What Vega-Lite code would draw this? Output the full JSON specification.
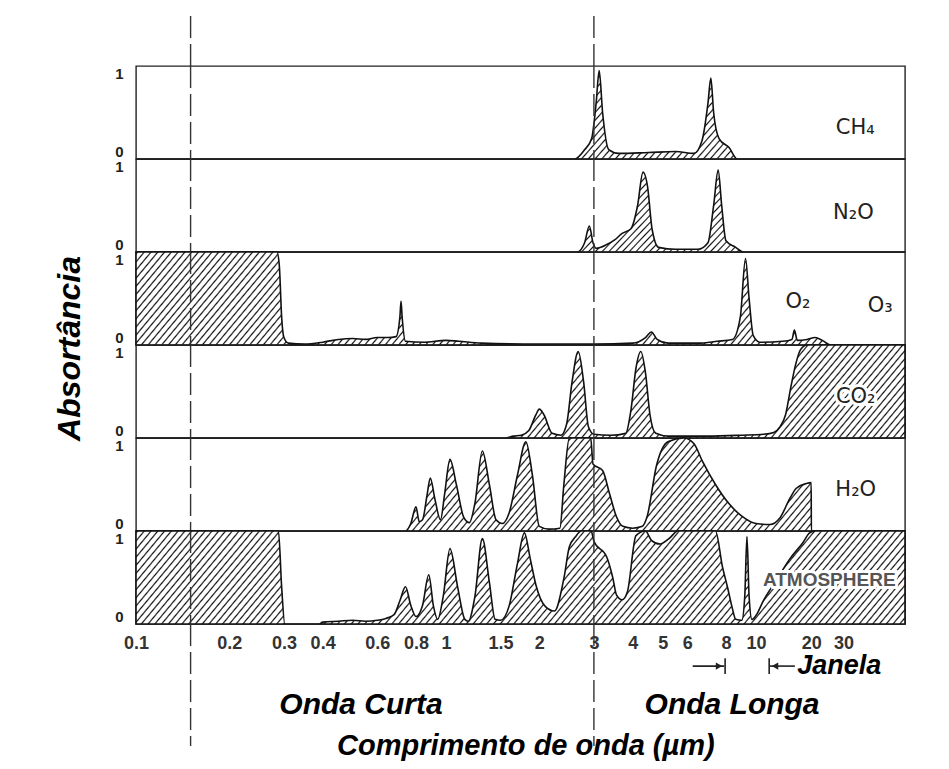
{
  "$schema": "https://vega.github.io/schema/vega-lite/v6.json",
  "padding": {"left": 52, "top": 15, "right": 0, "bottom": 0},
  "spacing": 0,
  "bounds": "flush",
  "resolve": {"scale": {"x": "independent", "y": "independent"}, "axis": {"x": "independent", "y": "independent"}},
  "datasets": {
    "limits": [{"wl": 0.15}, {"wl": 3}],
    "spectra": [
      {"gas": "CH4", "wl": 0.1, "a": 0}, {"gas": "CH4", "wl": 2.6, "a": 0}, {"gas": "CH4", "wl": 2.8, "a": 0.1}, {"gas": "CH4", "wl": 2.95, "a": 0.22}, {"gas": "CH4", "wl": 3.05, "a": 0.6}, {"gas": "CH4", "wl": 3.12, "a": 0.95}, {"gas": "CH4", "wl": 3.2, "a": 0.5}, {"gas": "CH4", "wl": 3.35, "a": 0.1}, {"gas": "CH4", "wl": 3.6, "a": 0.06}, {"gas": "CH4", "wl": 4.5, "a": 0.07}, {"gas": "CH4", "wl": 5.5, "a": 0.08}, {"gas": "CH4", "wl": 6.3, "a": 0.06}, {"gas": "CH4", "wl": 6.7, "a": 0.2}, {"gas": "CH4", "wl": 7.0, "a": 0.6}, {"gas": "CH4", "wl": 7.15, "a": 0.87}, {"gas": "CH4", "wl": 7.3, "a": 0.5}, {"gas": "CH4", "wl": 7.6, "a": 0.22}, {"gas": "CH4", "wl": 8.2, "a": 0.12}, {"gas": "CH4", "wl": 8.7, "a": 0}, {"gas": "CH4", "wl": 65, "a": 0},
      {"gas": "N2O", "wl": 0.1, "a": 0}, {"gas": "N2O", "wl": 2.65, "a": 0}, {"gas": "N2O", "wl": 2.8, "a": 0.1}, {"gas": "N2O", "wl": 2.9, "a": 0.28}, {"gas": "N2O", "wl": 2.98, "a": 0.1}, {"gas": "N2O", "wl": 3.05, "a": 0.04}, {"gas": "N2O", "wl": 3.3, "a": 0.08}, {"gas": "N2O", "wl": 3.5, "a": 0.13}, {"gas": "N2O", "wl": 3.7, "a": 0.2}, {"gas": "N2O", "wl": 3.95, "a": 0.25}, {"gas": "N2O", "wl": 4.15, "a": 0.5}, {"gas": "N2O", "wl": 4.32, "a": 0.86}, {"gas": "N2O", "wl": 4.47, "a": 0.7}, {"gas": "N2O", "wl": 4.62, "a": 0.25}, {"gas": "N2O", "wl": 4.85, "a": 0.05}, {"gas": "N2O", "wl": 5.5, "a": 0.03}, {"gas": "N2O", "wl": 6.5, "a": 0.03}, {"gas": "N2O", "wl": 7.0, "a": 0.1}, {"gas": "N2O", "wl": 7.3, "a": 0.5}, {"gas": "N2O", "wl": 7.55, "a": 0.88}, {"gas": "N2O", "wl": 7.75, "a": 0.5}, {"gas": "N2O", "wl": 8.0, "a": 0.12}, {"gas": "N2O", "wl": 8.6, "a": 0.05}, {"gas": "N2O", "wl": 9.1, "a": 0}, {"gas": "N2O", "wl": 65, "a": 0},
      {"gas": "O3", "wl": 0.1, "a": 1}, {"gas": "O3", "wl": 0.285, "a": 1}, {"gas": "O3", "wl": 0.29, "a": 0.85}, {"gas": "O3", "wl": 0.295, "a": 0.3}, {"gas": "O3", "wl": 0.3, "a": 0.08}, {"gas": "O3", "wl": 0.31, "a": 0.02}, {"gas": "O3", "wl": 0.35, "a": 0.01}, {"gas": "O3", "wl": 0.4, "a": 0.03}, {"gas": "O3", "wl": 0.45, "a": 0.06}, {"gas": "O3", "wl": 0.5, "a": 0.07}, {"gas": "O3", "wl": 0.55, "a": 0.06}, {"gas": "O3", "wl": 0.6, "a": 0.08}, {"gas": "O3", "wl": 0.65, "a": 0.08}, {"gas": "O3", "wl": 0.69, "a": 0.09}, {"gas": "O3", "wl": 0.71, "a": 0.3}, {"gas": "O3", "wl": 0.716, "a": 0.47}, {"gas": "O3", "wl": 0.722, "a": 0.3}, {"gas": "O3", "wl": 0.74, "a": 0.04}, {"gas": "O3", "wl": 0.85, "a": 0.03}, {"gas": "O3", "wl": 1.0, "a": 0.05}, {"gas": "O3", "wl": 1.1, "a": 0.04}, {"gas": "O3", "wl": 1.3, "a": 0.02}, {"gas": "O3", "wl": 2, "a": 0.01}, {"gas": "O3", "wl": 3, "a": 0.01}, {"gas": "O3", "wl": 4, "a": 0.02}, {"gas": "O3", "wl": 4.4, "a": 0.08}, {"gas": "O3", "wl": 4.6, "a": 0.14}, {"gas": "O3", "wl": 4.8, "a": 0.06}, {"gas": "O3", "wl": 5.2, "a": 0.02}, {"gas": "O3", "wl": 6.5, "a": 0.02}, {"gas": "O3", "wl": 7.5, "a": 0.04}, {"gas": "O3", "wl": 8.4, "a": 0.06}, {"gas": "O3", "wl": 8.9, "a": 0.3}, {"gas": "O3", "wl": 9.25, "a": 0.93}, {"gas": "O3", "wl": 9.5, "a": 0.5}, {"gas": "O3", "wl": 9.8, "a": 0.1}, {"gas": "O3", "wl": 10.5, "a": 0.03}, {"gas": "O3", "wl": 14, "a": 0.04}, {"gas": "O3", "wl": 15.7, "a": 0.06}, {"gas": "O3", "wl": 16.2, "a": 0.16}, {"gas": "O3", "wl": 16.8, "a": 0.05}, {"gas": "O3", "wl": 19, "a": 0.06}, {"gas": "O3", "wl": 21, "a": 0.08}, {"gas": "O3", "wl": 23, "a": 0.05}, {"gas": "O3", "wl": 25.5, "a": 0}, {"gas": "O3", "wl": 65, "a": 0},
      {"gas": "CO2", "wl": 0.1, "a": 0}, {"gas": "CO2", "wl": 1.55, "a": 0}, {"gas": "CO2", "wl": 1.65, "a": 0.02}, {"gas": "CO2", "wl": 1.75, "a": 0.03}, {"gas": "CO2", "wl": 1.85, "a": 0.08}, {"gas": "CO2", "wl": 1.95, "a": 0.25}, {"gas": "CO2", "wl": 2.0, "a": 0.31}, {"gas": "CO2", "wl": 2.07, "a": 0.25}, {"gas": "CO2", "wl": 2.2, "a": 0.05}, {"gas": "CO2", "wl": 2.35, "a": 0.03}, {"gas": "CO2", "wl": 2.45, "a": 0.15}, {"gas": "CO2", "wl": 2.55, "a": 0.6}, {"gas": "CO2", "wl": 2.67, "a": 0.93}, {"gas": "CO2", "wl": 2.78, "a": 0.6}, {"gas": "CO2", "wl": 2.88, "a": 0.12}, {"gas": "CO2", "wl": 3.0, "a": 0.04}, {"gas": "CO2", "wl": 3.4, "a": 0.03}, {"gas": "CO2", "wl": 3.8, "a": 0.05}, {"gas": "CO2", "wl": 3.95, "a": 0.3}, {"gas": "CO2", "wl": 4.1, "a": 0.75}, {"gas": "CO2", "wl": 4.25, "a": 0.93}, {"gas": "CO2", "wl": 4.4, "a": 0.7}, {"gas": "CO2", "wl": 4.55, "a": 0.25}, {"gas": "CO2", "wl": 4.75, "a": 0.05}, {"gas": "CO2", "wl": 5.2, "a": 0.02}, {"gas": "CO2", "wl": 7, "a": 0.02}, {"gas": "CO2", "wl": 9, "a": 0.03}, {"gas": "CO2", "wl": 11, "a": 0.04}, {"gas": "CO2", "wl": 12.5, "a": 0.06}, {"gas": "CO2", "wl": 13.5, "a": 0.12}, {"gas": "CO2", "wl": 14.5, "a": 0.25}, {"gas": "CO2", "wl": 15.5, "a": 0.55}, {"gas": "CO2", "wl": 16.5, "a": 0.8}, {"gas": "CO2", "wl": 17.5, "a": 0.95}, {"gas": "CO2", "wl": 19, "a": 1}, {"gas": "CO2", "wl": 65, "a": 1},
      {"gas": "H2O", "wl": 0.1, "a": 0}, {"gas": "H2O", "wl": 0.74, "a": 0}, {"gas": "H2O", "wl": 0.77, "a": 0.08}, {"gas": "H2O", "wl": 0.8, "a": 0.26}, {"gas": "H2O", "wl": 0.82, "a": 0.1}, {"gas": "H2O", "wl": 0.84, "a": 0.12}, {"gas": "H2O", "wl": 0.87, "a": 0.4}, {"gas": "H2O", "wl": 0.89, "a": 0.57}, {"gas": "H2O", "wl": 0.92, "a": 0.35}, {"gas": "H2O", "wl": 0.96, "a": 0.12}, {"gas": "H2O", "wl": 0.99, "a": 0.4}, {"gas": "H2O", "wl": 1.03, "a": 0.77}, {"gas": "H2O", "wl": 1.08, "a": 0.5}, {"gas": "H2O", "wl": 1.14, "a": 0.15}, {"gas": "H2O", "wl": 1.19, "a": 0.09}, {"gas": "H2O", "wl": 1.24, "a": 0.3}, {"gas": "H2O", "wl": 1.31, "a": 0.86}, {"gas": "H2O", "wl": 1.38, "a": 0.5}, {"gas": "H2O", "wl": 1.45, "a": 0.12}, {"gas": "H2O", "wl": 1.52, "a": 0.08}, {"gas": "H2O", "wl": 1.6, "a": 0.2}, {"gas": "H2O", "wl": 1.7, "a": 0.6}, {"gas": "H2O", "wl": 1.81, "a": 0.96}, {"gas": "H2O", "wl": 1.9, "a": 0.6}, {"gas": "H2O", "wl": 2.0, "a": 0.05}, {"gas": "H2O", "wl": 2.15, "a": 0.02}, {"gas": "H2O", "wl": 2.33, "a": 0.03}, {"gas": "H2O", "wl": 2.4, "a": 0.5}, {"gas": "H2O", "wl": 2.5, "a": 1.0}, {"gas": "H2O", "wl": 2.93, "a": 1.0}, {"gas": "H2O", "wl": 2.98, "a": 0.72}, {"gas": "H2O", "wl": 3.2, "a": 0.65}, {"gas": "H2O", "wl": 3.37, "a": 0.4}, {"gas": "H2O", "wl": 3.55, "a": 0.15}, {"gas": "H2O", "wl": 3.72, "a": 0.05}, {"gas": "H2O", "wl": 4.0, "a": 0.03}, {"gas": "H2O", "wl": 4.3, "a": 0.05}, {"gas": "H2O", "wl": 4.45, "a": 0.15}, {"gas": "H2O", "wl": 4.78, "a": 0.71}, {"gas": "H2O", "wl": 5.2, "a": 0.96}, {"gas": "H2O", "wl": 5.85, "a": 1.0}, {"gas": "H2O", "wl": 6.3, "a": 0.94}, {"gas": "H2O", "wl": 6.74, "a": 0.74}, {"gas": "H2O", "wl": 7.4, "a": 0.5}, {"gas": "H2O", "wl": 8.15, "a": 0.3}, {"gas": "H2O", "wl": 9.0, "a": 0.16}, {"gas": "H2O", "wl": 10, "a": 0.08}, {"gas": "H2O", "wl": 11.9, "a": 0.07}, {"gas": "H2O", "wl": 13.5, "a": 0.14}, {"gas": "H2O", "wl": 15.3, "a": 0.35}, {"gas": "H2O", "wl": 16.6, "a": 0.46}, {"gas": "H2O", "wl": 18.8, "a": 0.51}, {"gas": "H2O", "wl": 20, "a": 0.52}, {"gas": "H2O", "wl": 20.05, "a": 0}, {"gas": "H2O", "wl": 65, "a": 0},
      {"gas": "ATM", "wl": 0.1, "a": 1}, {"gas": "ATM", "wl": 0.288, "a": 1}, {"gas": "ATM", "wl": 0.295, "a": 0.4}, {"gas": "ATM", "wl": 0.302, "a": 0}, {"gas": "ATM", "wl": 0.39, "a": 0}, {"gas": "ATM", "wl": 0.4, "a": 0.02}, {"gas": "ATM", "wl": 0.45, "a": 0.03}, {"gas": "ATM", "wl": 0.5, "a": 0.04}, {"gas": "ATM", "wl": 0.55, "a": 0.03}, {"gas": "ATM", "wl": 0.6, "a": 0.04}, {"gas": "ATM", "wl": 0.64, "a": 0.06}, {"gas": "ATM", "wl": 0.68, "a": 0.1}, {"gas": "ATM", "wl": 0.71, "a": 0.25}, {"gas": "ATM", "wl": 0.74, "a": 0.4}, {"gas": "ATM", "wl": 0.77, "a": 0.2}, {"gas": "ATM", "wl": 0.8, "a": 0.08}, {"gas": "ATM", "wl": 0.84, "a": 0.2}, {"gas": "ATM", "wl": 0.88, "a": 0.53}, {"gas": "ATM", "wl": 0.91, "a": 0.2}, {"gas": "ATM", "wl": 0.94, "a": 0.05}, {"gas": "ATM", "wl": 0.98, "a": 0.3}, {"gas": "ATM", "wl": 1.03, "a": 0.81}, {"gas": "ATM", "wl": 1.09, "a": 0.4}, {"gas": "ATM", "wl": 1.15, "a": 0.05}, {"gas": "ATM", "wl": 1.18, "a": 0.03}, {"gas": "ATM", "wl": 1.24, "a": 0.3}, {"gas": "ATM", "wl": 1.31, "a": 0.92}, {"gas": "ATM", "wl": 1.38, "a": 0.45}, {"gas": "ATM", "wl": 1.44, "a": 0.05}, {"gas": "ATM", "wl": 1.5, "a": 0.04}, {"gas": "ATM", "wl": 1.6, "a": 0.2}, {"gas": "ATM", "wl": 1.7, "a": 0.65}, {"gas": "ATM", "wl": 1.79, "a": 0.98}, {"gas": "ATM", "wl": 1.87, "a": 0.7}, {"gas": "ATM", "wl": 1.95, "a": 0.42}, {"gas": "ATM", "wl": 2.09, "a": 0.19}, {"gas": "ATM", "wl": 2.24, "a": 0.14}, {"gas": "ATM", "wl": 2.4, "a": 0.49}, {"gas": "ATM", "wl": 2.5, "a": 0.83}, {"gas": "ATM", "wl": 2.62, "a": 0.94}, {"gas": "ATM", "wl": 2.73, "a": 1.0}, {"gas": "ATM", "wl": 2.94, "a": 1.0}, {"gas": "ATM", "wl": 3.0, "a": 0.89}, {"gas": "ATM", "wl": 3.3, "a": 0.72}, {"gas": "ATM", "wl": 3.45, "a": 0.5}, {"gas": "ATM", "wl": 3.55, "a": 0.31}, {"gas": "ATM", "wl": 3.7, "a": 0.26}, {"gas": "ATM", "wl": 3.85, "a": 0.35}, {"gas": "ATM", "wl": 4.1, "a": 0.95}, {"gas": "ATM", "wl": 4.4, "a": 1.0}, {"gas": "ATM", "wl": 4.6, "a": 0.9}, {"gas": "ATM", "wl": 4.9, "a": 0.86}, {"gas": "ATM", "wl": 5.25, "a": 0.92}, {"gas": "ATM", "wl": 5.6, "a": 1.0}, {"gas": "ATM", "wl": 7.4, "a": 1.0}, {"gas": "ATM", "wl": 7.8, "a": 0.61}, {"gas": "ATM", "wl": 8.1, "a": 0.39}, {"gas": "ATM", "wl": 8.4, "a": 0.16}, {"gas": "ATM", "wl": 8.6, "a": 0.05}, {"gas": "ATM", "wl": 9.0, "a": 0.04}, {"gas": "ATM", "wl": 9.2, "a": 0.3}, {"gas": "ATM", "wl": 9.35, "a": 0.94}, {"gas": "ATM", "wl": 9.5, "a": 0.3}, {"gas": "ATM", "wl": 9.7, "a": 0.05}, {"gas": "ATM", "wl": 10.2, "a": 0.12}, {"gas": "ATM", "wl": 10.9, "a": 0.24}, {"gas": "ATM", "wl": 12.9, "a": 0.47}, {"gas": "ATM", "wl": 15.3, "a": 0.7}, {"gas": "ATM", "wl": 18.1, "a": 0.88}, {"gas": "ATM", "wl": 19.6, "a": 0.98}, {"gas": "ATM", "wl": 21, "a": 1}, {"gas": "ATM", "wl": 65, "a": 1}
    ]
  },
  "vconcat": [
    {
      "width": 769, "height": 50, "view": {"stroke": null},
      "data": {"name": "limits"},
      "mark": {"type": "rule", "strokeDash": [22, 6], "stroke": "#333", "strokeWidth": 1.4},
      "encoding": {"x": {"field": "wl", "type": "quantitative", "scale": {"type": "log", "domain": [0.1, 10, 65], "range": [0, 620, 769], "nice": false}, "axis": null}}
    },
    {
      "width": 769, "height": 93,
      "layer": [
        {"data": {"name": "spectra"}, "transform": [{"filter": "datum.gas === 'CH4'"}], "mark": {"type": "area"},
         "encoding": {"x": {"field": "wl", "type": "quantitative", "scale": {"type": "log", "domain": [0.1, 10, 65], "range": [0, 620, 769], "nice": false}, "axis": null},
                      "y": {"field": "a", "type": "quantitative", "scale": {"domain": [0, 1], "nice": false}, "axis": {"values": [0, 1], "format": "~g", "title": null, "labelFlush": true, "ticks": false, "domain": false, "grid": false, "labelPadding": 13, "labelFontSize": 15, "labelFontWeight": "bold", "labelColor": "#222"}}}},
        {"data": {"name": "limits"}, "mark": {"type": "rule", "strokeDash": [22, 6], "stroke": "#333", "strokeWidth": 1.4}, "encoding": {"x": {"field": "wl", "type": "quantitative", "scale": {"type": "log", "domain": [0.1, 10, 65], "range": [0, 620, 769], "nice": false}, "axis": null}}},
        {"data": {"values": [{}]}, "mark": {"type": "text", "font": "DejaVu Sans", "fontSize": 21, "color": "#222"},
         "encoding": {"x": {"datum": 34.8, "type": "quantitative", "scale": {"type": "log", "domain": [0.1, 10, 65], "range": [0, 620, 769], "nice": false}, "axis": null}, "y": {"datum": 0.33, "type": "quantitative", "scale": {"domain": [0, 1], "nice": false}}, "text": {"value": "CH₄"}}}
      ]
    },
    {
      "width": 769, "height": 93,
      "layer": [
        {"data": {"name": "spectra"}, "transform": [{"filter": "datum.gas === 'N2O'"}], "mark": {"type": "area"},
         "encoding": {"x": {"field": "wl", "type": "quantitative", "scale": {"type": "log", "domain": [0.1, 10, 65], "range": [0, 620, 769], "nice": false}, "axis": null},
                      "y": {"field": "a", "type": "quantitative", "scale": {"domain": [0, 1], "nice": false}, "axis": {"values": [0, 1], "format": "~g", "title": null, "labelFlush": true, "ticks": false, "domain": false, "grid": false, "labelPadding": 13, "labelFontSize": 15, "labelFontWeight": "bold", "labelColor": "#222"}}}},
        {"data": {"name": "limits"}, "mark": {"type": "rule", "strokeDash": [22, 6], "stroke": "#333", "strokeWidth": 1.4}, "encoding": {"x": {"field": "wl", "type": "quantitative", "scale": {"type": "log", "domain": [0.1, 10, 65], "range": [0, 620, 769], "nice": false}, "axis": null}}},
        {"data": {"values": [{}]}, "mark": {"type": "text", "font": "DejaVu Sans", "fontSize": 21, "color": "#222"},
         "encoding": {"x": {"datum": 34, "type": "quantitative", "scale": {"type": "log", "domain": [0.1, 10, 65], "range": [0, 620, 769], "nice": false}, "axis": null}, "y": {"datum": 0.42, "type": "quantitative", "scale": {"domain": [0, 1], "nice": false}}, "text": {"value": "N₂O"}}}
      ]
    },
    {
      "width": 769, "height": 93,
      "layer": [
        {"data": {"name": "spectra"}, "transform": [{"filter": "datum.gas === 'O3'"}], "mark": {"type": "area"},
         "encoding": {"x": {"field": "wl", "type": "quantitative", "scale": {"type": "log", "domain": [0.1, 10, 65], "range": [0, 620, 769], "nice": false}, "axis": null},
                      "y": {"field": "a", "type": "quantitative", "scale": {"domain": [0, 1], "nice": false}, "axis": {"values": [0, 1], "format": "~g", "title": "Absortância", "titleFontSize": 32, "titleFontStyle": "italic", "titleFontWeight": "bold", "titleColor": "#000", "titlePadding": 28, "titleY": 96, "labelFlush": true, "ticks": false, "domain": false, "grid": false, "labelPadding": 13, "labelFontSize": 15, "labelFontWeight": "bold", "labelColor": "#222"}}}},
        {"data": {"name": "limits"}, "mark": {"type": "rule", "strokeDash": [22, 6], "stroke": "#333", "strokeWidth": 1.4}, "encoding": {"x": {"field": "wl", "type": "quantitative", "scale": {"type": "log", "domain": [0.1, 10, 65], "range": [0, 620, 769], "nice": false}, "axis": null}}},
        {"data": {"values": [{}]}, "mark": {"type": "text", "font": "DejaVu Sans", "fontSize": 21, "color": "#222"},
         "encoding": {"x": {"datum": 16.96, "type": "quantitative", "scale": {"type": "log", "domain": [0.1, 10, 65], "range": [0, 620, 769], "nice": false}, "axis": null}, "y": {"datum": 0.46, "type": "quantitative", "scale": {"domain": [0, 1], "nice": false}}, "text": {"value": "O₂"}}},
        {"data": {"values": [{}]}, "mark": {"type": "text", "font": "DejaVu Sans", "fontSize": 21, "color": "#222"},
         "encoding": {"x": {"datum": 47.6, "type": "quantitative", "scale": {"type": "log", "domain": [0.1, 10, 65], "range": [0, 620, 769], "nice": false}, "axis": null}, "y": {"datum": 0.42, "type": "quantitative", "scale": {"domain": [0, 1], "nice": false}}, "text": {"value": "O₃"}}}
      ]
    },
    {
      "width": 769, "height": 93,
      "layer": [
        {"data": {"name": "spectra"}, "transform": [{"filter": "datum.gas === 'CO2'"}], "mark": {"type": "area"},
         "encoding": {"x": {"field": "wl", "type": "quantitative", "scale": {"type": "log", "domain": [0.1, 10, 65], "range": [0, 620, 769], "nice": false}, "axis": null},
                      "y": {"field": "a", "type": "quantitative", "scale": {"domain": [0, 1], "nice": false}, "axis": {"values": [0, 1], "format": "~g", "title": null, "labelFlush": true, "ticks": false, "domain": false, "grid": false, "labelPadding": 13, "labelFontSize": 15, "labelFontWeight": "bold", "labelColor": "#222"}}}},
        {"data": {"name": "limits"}, "mark": {"type": "rule", "strokeDash": [22, 6], "stroke": "#333", "strokeWidth": 1.4}, "encoding": {"x": {"field": "wl", "type": "quantitative", "scale": {"type": "log", "domain": [0.1, 10, 65], "range": [0, 620, 769], "nice": false}, "axis": null}}},
        {"data": {"values": [{}]}, "mark": {"type": "text", "font": "DejaVu Sans", "fontSize": 21, "color": "#fff", "stroke": "#fff", "strokeWidth": 6},
         "encoding": {"x": {"datum": 35, "type": "quantitative", "scale": {"type": "log", "domain": [0.1, 10, 65], "range": [0, 620, 769], "nice": false}, "axis": null}, "y": {"datum": 0.44, "type": "quantitative", "scale": {"domain": [0, 1], "nice": false}}, "text": {"value": "CO₂"}}},
        {"data": {"values": [{}]}, "mark": {"type": "text", "font": "DejaVu Sans", "fontSize": 21, "color": "#222"},
         "encoding": {"x": {"datum": 35, "type": "quantitative", "scale": {"type": "log", "domain": [0.1, 10, 65], "range": [0, 620, 769], "nice": false}, "axis": null}, "y": {"datum": 0.44, "type": "quantitative", "scale": {"domain": [0, 1], "nice": false}}, "text": {"value": "CO₂"}}}
      ]
    },
    {
      "width": 769, "height": 93,
      "layer": [
        {"data": {"name": "spectra"}, "transform": [{"filter": "datum.gas === 'H2O'"}], "mark": {"type": "area"},
         "encoding": {"x": {"field": "wl", "type": "quantitative", "scale": {"type": "log", "domain": [0.1, 10, 65], "range": [0, 620, 769], "nice": false}, "axis": null},
                      "y": {"field": "a", "type": "quantitative", "scale": {"domain": [0, 1], "nice": false}, "axis": {"values": [0, 1], "format": "~g", "title": null, "labelFlush": true, "ticks": false, "domain": false, "grid": false, "labelPadding": 13, "labelFontSize": 15, "labelFontWeight": "bold", "labelColor": "#222"}}}},
        {"data": {"name": "limits"}, "mark": {"type": "rule", "strokeDash": [22, 6], "stroke": "#333", "strokeWidth": 1.4}, "encoding": {"x": {"field": "wl", "type": "quantitative", "scale": {"type": "log", "domain": [0.1, 10, 65], "range": [0, 620, 769], "nice": false}, "axis": null}}},
        {"data": {"values": [{}]}, "mark": {"type": "text", "font": "DejaVu Sans", "fontSize": 21, "color": "#222"},
         "encoding": {"x": {"datum": 35, "type": "quantitative", "scale": {"type": "log", "domain": [0.1, 10, 65], "range": [0, 620, 769], "nice": false}, "axis": null}, "y": {"datum": 0.44, "type": "quantitative", "scale": {"domain": [0, 1], "nice": false}}, "text": {"value": "H₂O"}}}
      ]
    },
    {
      "width": 769, "height": 93,
      "layer": [
        {"data": {"name": "spectra"}, "transform": [{"filter": "datum.gas === 'ATM'"}], "mark": {"type": "area"},
         "encoding": {"x": {"field": "wl", "type": "quantitative", "scale": {"type": "log", "domain": [0.1, 10, 65], "range": [0, 620, 769], "nice": false}, "axis": null},
                      "y": {"field": "a", "type": "quantitative", "scale": {"domain": [0, 1], "nice": false}, "axis": {"values": [0, 1], "format": "~g", "title": null, "labelFlush": true, "ticks": false, "domain": false, "grid": false, "labelPadding": 13, "labelFontSize": 15, "labelFontWeight": "bold", "labelColor": "#222"}}}},
        {"data": {"name": "limits"}, "mark": {"type": "rule", "strokeDash": [22, 6], "stroke": "#333", "strokeWidth": 1.4}, "encoding": {"x": {"field": "wl", "type": "quantitative", "scale": {"type": "log", "domain": [0.1, 10, 65], "range": [0, 620, 769], "nice": false}, "axis": null}}},
        {"data": {"values": [{}]}, "mark": {"type": "text", "fontSize": 19, "fontWeight": "bold", "color": "#fff", "stroke": "#fff", "strokeWidth": 6},
         "encoding": {"x": {"datum": 25.1, "type": "quantitative", "scale": {"type": "log", "domain": [0.1, 10, 65], "range": [0, 620, 769], "nice": false}, "axis": null}, "y": {"datum": 0.47, "type": "quantitative", "scale": {"domain": [0, 1], "nice": false}}, "text": {"value": "ATMOSPHERE"}}},
        {"data": {"values": [{}]}, "mark": {"type": "text", "fontSize": 19, "fontWeight": "bold", "color": "#555"},
         "encoding": {"x": {"datum": 25.1, "type": "quantitative", "scale": {"type": "log", "domain": [0.1, 10, 65], "range": [0, 620, 769], "nice": false}, "axis": null}, "y": {"datum": 0.47, "type": "quantitative", "scale": {"domain": [0, 1], "nice": false}}, "text": {"value": "ATMOSPHERE"}}}
      ]
    },
    {
      "width": 769, "height": 122, "view": {"stroke": null},
      "layer": [
        {"data": {"name": "limits"}, "mark": {"type": "rule", "strokeDash": [22, 6], "stroke": "#333", "strokeWidth": 1.4},
         "encoding": {"x": {"field": "wl", "type": "quantitative", "scale": {"type": "log", "domain": [0.1, 10, 65], "range": [0, 620, 769], "nice": false},
                            "axis": {"orient": "top", "values": [0.1, 0.2, 0.3, 0.4, 0.6, 0.8, 1, 1.5, 2, 3, 4, 5, 6, 8, 10, 20, 30], "format": "~g", "labelBaseline": "top", "labelPadding": -10, "labelFontSize": 18, "labelFontWeight": "bold", "labelColor": "#333", "ticks": false, "domain": false, "grid": false, "title": null, "labelFlush": false, "labelOverlap": false, "labelBound": false}}}},
        {"data": {"values": [{}]}, "mark": {"type": "text", "fontSize": 30, "fontWeight": "bold", "fontStyle": "italic", "color": "#000"},
         "encoding": {"x": {"datum": 0.532, "type": "quantitative", "scale": {"type": "log", "domain": [0.1, 10, 65], "range": [0, 620, 769], "nice": false}}, "y": {"datum": 0.34, "type": "quantitative", "scale": {"domain": [0, 1], "nice": false}, "axis": null}, "text": {"value": "Onda Curta"}}},
        {"data": {"values": [{}]}, "mark": {"type": "text", "fontSize": 30, "fontWeight": "bold", "fontStyle": "italic", "color": "#000"},
         "encoding": {"x": {"datum": 8.37, "type": "quantitative", "scale": {"type": "log", "domain": [0.1, 10, 65], "range": [0, 620, 769], "nice": false}}, "y": {"datum": 0.34, "type": "quantitative", "scale": {"domain": [0, 1], "nice": false}, "axis": null}, "text": {"value": "Onda Longa"}}},
        {"data": {"values": [{}]}, "mark": {"type": "text", "fontSize": 29, "fontWeight": "bold", "fontStyle": "italic", "color": "#000"},
         "encoding": {"x": {"datum": 1.81, "type": "quantitative", "scale": {"type": "log", "domain": [0.1, 10, 65], "range": [0, 620, 769], "nice": false}}, "y": {"datum": 0, "type": "quantitative", "scale": {"domain": [0, 1], "nice": false}, "axis": null}, "text": {"value": "Comprimento de onda (µm)"}}},
        {"data": {"values": [{}]}, "mark": {"type": "rule", "stroke": "#222", "strokeWidth": 1.6},
         "encoding": {"x": {"datum": 6.25, "type": "quantitative", "scale": {"type": "log", "domain": [0.1, 10, 65], "range": [0, 620, 769], "nice": false}}, "x2": {"datum": 7.9}, "y": {"datum": 0.655, "type": "quantitative", "scale": {"domain": [0, 1], "nice": false}, "axis": null}}},
        {"data": {"values": [{}]}, "mark": {"type": "rule", "stroke": "#222", "strokeWidth": 1.6},
         "encoding": {"x": {"datum": 7.95, "type": "quantitative", "scale": {"type": "log", "domain": [0.1, 10, 65], "range": [0, 620, 769], "nice": false}}, "y": {"datum": 0.59, "type": "quantitative", "scale": {"domain": [0, 1], "nice": false}, "axis": null}, "y2": {"datum": 0.72}}},
        {"data": {"values": [{}]}, "mark": {"type": "point", "shape": "triangle-right", "filled": true, "size": 55, "color": "#222", "opacity": 1},
         "encoding": {"x": {"datum": 7.6, "type": "quantitative", "scale": {"type": "log", "domain": [0.1, 10, 65], "range": [0, 620, 769], "nice": false}}, "y": {"datum": 0.655, "type": "quantitative", "scale": {"domain": [0, 1], "nice": false}, "axis": null}}},
        {"data": {"values": [{}]}, "mark": {"type": "rule", "stroke": "#222", "strokeWidth": 1.6},
         "encoding": {"x": {"datum": 11.8, "type": "quantitative", "scale": {"type": "log", "domain": [0.1, 10, 65], "range": [0, 620, 769], "nice": false}}, "y": {"datum": 0.59, "type": "quantitative", "scale": {"domain": [0, 1], "nice": false}, "axis": null}, "y2": {"datum": 0.72}}},
        {"data": {"values": [{}]}, "mark": {"type": "rule", "stroke": "#222", "strokeWidth": 1.6},
         "encoding": {"x": {"datum": 11.9, "type": "quantitative", "scale": {"type": "log", "domain": [0.1, 10, 65], "range": [0, 620, 769], "nice": false}}, "x2": {"datum": 16.3}, "y": {"datum": 0.655, "type": "quantitative", "scale": {"domain": [0, 1], "nice": false}, "axis": null}}},
        {"data": {"values": [{}]}, "mark": {"type": "point", "shape": "triangle-left", "filled": true, "size": 55, "color": "#222", "opacity": 1},
         "encoding": {"x": {"datum": 12.7, "type": "quantitative", "scale": {"type": "log", "domain": [0.1, 10, 65], "range": [0, 620, 769], "nice": false}}, "y": {"datum": 0.655, "type": "quantitative", "scale": {"domain": [0, 1], "nice": false}, "axis": null}}},
        {"data": {"values": [{}]}, "mark": {"type": "text", "fontSize": 27, "fontWeight": "bold", "fontStyle": "italic", "align": "left", "color": "#000"},
         "encoding": {"x": {"datum": 16.8, "type": "quantitative", "scale": {"type": "log", "domain": [0.1, 10, 65], "range": [0, 620, 769], "nice": false}}, "y": {"datum": 0.655, "type": "quantitative", "scale": {"domain": [0, 1], "nice": false}, "axis": null}, "text": {"value": "Janela"}}}
      ]
    }
  ],
  "config": {
    "font": "Liberation Sans",
    "view": {"stroke": "#222", "strokeWidth": 1.4},
    "text": {"font": "Liberation Sans", "baseline": "middle"},
    "area": {
      "interpolate": "monotone",
      "stroke": "#111",
      "strokeWidth": 1.6,
      "fill": {
        "gradient": "linear", "x1": 0, "y1": 0, "x2": 1.0897, "y2": 0.1098,
        "stops": [
          {"offset":0,"color":"#fff"},{"offset":0.0018,"color":"#111"},{"offset":0.0036,"color":"#fff"},
          {"offset":0.008,"color":"#fff"},{"offset":0.0098,"color":"#111"},{"offset":0.0116,"color":"#fff"},
          {"offset":0.016,"color":"#fff"},{"offset":0.0178,"color":"#111"},{"offset":0.0196,"color":"#fff"},
          {"offset":0.024,"color":"#fff"},{"offset":0.0258,"color":"#111"},{"offset":0.0276,"color":"#fff"},
          {"offset":0.032,"color":"#fff"},{"offset":0.0338,"color":"#111"},{"offset":0.0356,"color":"#fff"},
          {"offset":0.04,"color":"#fff"},{"offset":0.0418,"color":"#111"},{"offset":0.0436,"color":"#fff"},
          {"offset":0.048,"color":"#fff"},{"offset":0.0498,"color":"#111"},{"offset":0.0516,"color":"#fff"},
          {"offset":0.056,"color":"#fff"},{"offset":0.0578,"color":"#111"},{"offset":0.0596,"color":"#fff"},
          {"offset":0.064,"color":"#fff"},{"offset":0.0658,"color":"#111"},{"offset":0.0676,"color":"#fff"},
          {"offset":0.072,"color":"#fff"},{"offset":0.0738,"color":"#111"},{"offset":0.0756,"color":"#fff"},
          {"offset":0.08,"color":"#fff"},{"offset":0.0818,"color":"#111"},{"offset":0.0836,"color":"#fff"},
          {"offset":0.088,"color":"#fff"},{"offset":0.0898,"color":"#111"},{"offset":0.0916,"color":"#fff"},
          {"offset":0.096,"color":"#fff"},{"offset":0.0978,"color":"#111"},{"offset":0.0996,"color":"#fff"},
          {"offset":0.104,"color":"#fff"},{"offset":0.1058,"color":"#111"},{"offset":0.1076,"color":"#fff"},
          {"offset":0.112,"color":"#fff"},{"offset":0.1138,"color":"#111"},{"offset":0.1156,"color":"#fff"},
          {"offset":0.12,"color":"#fff"},{"offset":0.1218,"color":"#111"},{"offset":0.1236,"color":"#fff"},
          {"offset":0.128,"color":"#fff"},{"offset":0.1298,"color":"#111"},{"offset":0.1316,"color":"#fff"},
          {"offset":0.136,"color":"#fff"},{"offset":0.1378,"color":"#111"},{"offset":0.1396,"color":"#fff"},
          {"offset":0.144,"color":"#fff"},{"offset":0.1458,"color":"#111"},{"offset":0.1476,"color":"#fff"},
          {"offset":0.152,"color":"#fff"},{"offset":0.1538,"color":"#111"},{"offset":0.1556,"color":"#fff"},
          {"offset":0.16,"color":"#fff"},{"offset":0.1618,"color":"#111"},{"offset":0.1636,"color":"#fff"},
          {"offset":0.168,"color":"#fff"},{"offset":0.1698,"color":"#111"},{"offset":0.1716,"color":"#fff"},
          {"offset":0.176,"color":"#fff"},{"offset":0.1778,"color":"#111"},{"offset":0.1796,"color":"#fff"},
          {"offset":0.184,"color":"#fff"},{"offset":0.1858,"color":"#111"},{"offset":0.1876,"color":"#fff"},
          {"offset":0.192,"color":"#fff"},{"offset":0.1938,"color":"#111"},{"offset":0.1956,"color":"#fff"},
          {"offset":0.2,"color":"#fff"},{"offset":0.2018,"color":"#111"},{"offset":0.2036,"color":"#fff"},
          {"offset":0.208,"color":"#fff"},{"offset":0.2098,"color":"#111"},{"offset":0.2116,"color":"#fff"},
          {"offset":0.216,"color":"#fff"},{"offset":0.2178,"color":"#111"},{"offset":0.2196,"color":"#fff"},
          {"offset":0.224,"color":"#fff"},{"offset":0.2258,"color":"#111"},{"offset":0.2276,"color":"#fff"},
          {"offset":0.232,"color":"#fff"},{"offset":0.2338,"color":"#111"},{"offset":0.2356,"color":"#fff"},
          {"offset":0.24,"color":"#fff"},{"offset":0.2418,"color":"#111"},{"offset":0.2436,"color":"#fff"},
          {"offset":0.248,"color":"#fff"},{"offset":0.2498,"color":"#111"},{"offset":0.2516,"color":"#fff"},
          {"offset":0.256,"color":"#fff"},{"offset":0.2578,"color":"#111"},{"offset":0.2596,"color":"#fff"},
          {"offset":0.264,"color":"#fff"},{"offset":0.2658,"color":"#111"},{"offset":0.2676,"color":"#fff"},
          {"offset":0.272,"color":"#fff"},{"offset":0.2738,"color":"#111"},{"offset":0.2756,"color":"#fff"},
          {"offset":0.28,"color":"#fff"},{"offset":0.2818,"color":"#111"},{"offset":0.2836,"color":"#fff"},
          {"offset":0.288,"color":"#fff"},{"offset":0.2898,"color":"#111"},{"offset":0.2916,"color":"#fff"},
          {"offset":0.296,"color":"#fff"},{"offset":0.2978,"color":"#111"},{"offset":0.2996,"color":"#fff"},
          {"offset":0.304,"color":"#fff"},{"offset":0.3058,"color":"#111"},{"offset":0.3076,"color":"#fff"},
          {"offset":0.312,"color":"#fff"},{"offset":0.3138,"color":"#111"},{"offset":0.3156,"color":"#fff"},
          {"offset":0.32,"color":"#fff"},{"offset":0.3218,"color":"#111"},{"offset":0.3236,"color":"#fff"},
          {"offset":0.328,"color":"#fff"},{"offset":0.3298,"color":"#111"},{"offset":0.3316,"color":"#fff"},
          {"offset":0.336,"color":"#fff"},{"offset":0.3378,"color":"#111"},{"offset":0.3396,"color":"#fff"},
          {"offset":0.344,"color":"#fff"},{"offset":0.3458,"color":"#111"},{"offset":0.3476,"color":"#fff"},
          {"offset":0.352,"color":"#fff"},{"offset":0.3538,"color":"#111"},{"offset":0.3556,"color":"#fff"},
          {"offset":0.36,"color":"#fff"},{"offset":0.3618,"color":"#111"},{"offset":0.3636,"color":"#fff"},
          {"offset":0.368,"color":"#fff"},{"offset":0.3698,"color":"#111"},{"offset":0.3716,"color":"#fff"},
          {"offset":0.376,"color":"#fff"},{"offset":0.3778,"color":"#111"},{"offset":0.3796,"color":"#fff"},
          {"offset":0.384,"color":"#fff"},{"offset":0.3858,"color":"#111"},{"offset":0.3876,"color":"#fff"},
          {"offset":0.392,"color":"#fff"},{"offset":0.3938,"color":"#111"},{"offset":0.3956,"color":"#fff"},
          {"offset":0.4,"color":"#fff"},{"offset":0.4018,"color":"#111"},{"offset":0.4036,"color":"#fff"},
          {"offset":0.408,"color":"#fff"},{"offset":0.4098,"color":"#111"},{"offset":0.4116,"color":"#fff"},
          {"offset":0.416,"color":"#fff"},{"offset":0.4178,"color":"#111"},{"offset":0.4196,"color":"#fff"},
          {"offset":0.424,"color":"#fff"},{"offset":0.4258,"color":"#111"},{"offset":0.4276,"color":"#fff"},
          {"offset":0.432,"color":"#fff"},{"offset":0.4338,"color":"#111"},{"offset":0.4356,"color":"#fff"},
          {"offset":0.44,"color":"#fff"},{"offset":0.4418,"color":"#111"},{"offset":0.4436,"color":"#fff"},
          {"offset":0.448,"color":"#fff"},{"offset":0.4498,"color":"#111"},{"offset":0.4516,"color":"#fff"},
          {"offset":0.456,"color":"#fff"},{"offset":0.4578,"color":"#111"},{"offset":0.4596,"color":"#fff"},
          {"offset":0.464,"color":"#fff"},{"offset":0.4658,"color":"#111"},{"offset":0.4676,"color":"#fff"},
          {"offset":0.472,"color":"#fff"},{"offset":0.4738,"color":"#111"},{"offset":0.4756,"color":"#fff"},
          {"offset":0.48,"color":"#fff"},{"offset":0.4818,"color":"#111"},{"offset":0.4836,"color":"#fff"},
          {"offset":0.488,"color":"#fff"},{"offset":0.4898,"color":"#111"},{"offset":0.4916,"color":"#fff"},
          {"offset":0.496,"color":"#fff"},{"offset":0.4978,"color":"#111"},{"offset":0.4996,"color":"#fff"},
          {"offset":0.504,"color":"#fff"},{"offset":0.5058,"color":"#111"},{"offset":0.5076,"color":"#fff"},
          {"offset":0.512,"color":"#fff"},{"offset":0.5138,"color":"#111"},{"offset":0.5156,"color":"#fff"},
          {"offset":0.52,"color":"#fff"},{"offset":0.5218,"color":"#111"},{"offset":0.5236,"color":"#fff"},
          {"offset":0.528,"color":"#fff"},{"offset":0.5298,"color":"#111"},{"offset":0.5316,"color":"#fff"},
          {"offset":0.536,"color":"#fff"},{"offset":0.5378,"color":"#111"},{"offset":0.5396,"color":"#fff"},
          {"offset":0.544,"color":"#fff"},{"offset":0.5458,"color":"#111"},{"offset":0.5476,"color":"#fff"},
          {"offset":0.552,"color":"#fff"},{"offset":0.5538,"color":"#111"},{"offset":0.5556,"color":"#fff"},
          {"offset":0.56,"color":"#fff"},{"offset":0.5618,"color":"#111"},{"offset":0.5636,"color":"#fff"},
          {"offset":0.568,"color":"#fff"},{"offset":0.5698,"color":"#111"},{"offset":0.5716,"color":"#fff"},
          {"offset":0.576,"color":"#fff"},{"offset":0.5778,"color":"#111"},{"offset":0.5796,"color":"#fff"},
          {"offset":0.584,"color":"#fff"},{"offset":0.5858,"color":"#111"},{"offset":0.5876,"color":"#fff"},
          {"offset":0.592,"color":"#fff"},{"offset":0.5938,"color":"#111"},{"offset":0.5956,"color":"#fff"},
          {"offset":0.6,"color":"#fff"},{"offset":0.6018,"color":"#111"},{"offset":0.6036,"color":"#fff"},
          {"offset":0.608,"color":"#fff"},{"offset":0.6098,"color":"#111"},{"offset":0.6116,"color":"#fff"},
          {"offset":0.616,"color":"#fff"},{"offset":0.6178,"color":"#111"},{"offset":0.6196,"color":"#fff"},
          {"offset":0.624,"color":"#fff"},{"offset":0.6258,"color":"#111"},{"offset":0.6276,"color":"#fff"},
          {"offset":0.632,"color":"#fff"},{"offset":0.6338,"color":"#111"},{"offset":0.6356,"color":"#fff"},
          {"offset":0.64,"color":"#fff"},{"offset":0.6418,"color":"#111"},{"offset":0.6436,"color":"#fff"},
          {"offset":0.648,"color":"#fff"},{"offset":0.6498,"color":"#111"},{"offset":0.6516,"color":"#fff"},
          {"offset":0.656,"color":"#fff"},{"offset":0.6578,"color":"#111"},{"offset":0.6596,"color":"#fff"},
          {"offset":0.664,"color":"#fff"},{"offset":0.6658,"color":"#111"},{"offset":0.6676,"color":"#fff"},
          {"offset":0.672,"color":"#fff"},{"offset":0.6738,"color":"#111"},{"offset":0.6756,"color":"#fff"},
          {"offset":0.68,"color":"#fff"},{"offset":0.6818,"color":"#111"},{"offset":0.6836,"color":"#fff"},
          {"offset":0.688,"color":"#fff"},{"offset":0.6898,"color":"#111"},{"offset":0.6916,"color":"#fff"},
          {"offset":0.696,"color":"#fff"},{"offset":0.6978,"color":"#111"},{"offset":0.6996,"color":"#fff"},
          {"offset":0.704,"color":"#fff"},{"offset":0.7058,"color":"#111"},{"offset":0.7076,"color":"#fff"},
          {"offset":0.712,"color":"#fff"},{"offset":0.7138,"color":"#111"},{"offset":0.7156,"color":"#fff"},
          {"offset":0.72,"color":"#fff"},{"offset":0.7218,"color":"#111"},{"offset":0.7236,"color":"#fff"},
          {"offset":0.728,"color":"#fff"},{"offset":0.7298,"color":"#111"},{"offset":0.7316,"color":"#fff"},
          {"offset":0.736,"color":"#fff"},{"offset":0.7378,"color":"#111"},{"offset":0.7396,"color":"#fff"},
          {"offset":0.744,"color":"#fff"},{"offset":0.7458,"color":"#111"},{"offset":0.7476,"color":"#fff"},
          {"offset":0.752,"color":"#fff"},{"offset":0.7538,"color":"#111"},{"offset":0.7556,"color":"#fff"},
          {"offset":0.76,"color":"#fff"},{"offset":0.7618,"color":"#111"},{"offset":0.7636,"color":"#fff"},
          {"offset":0.768,"color":"#fff"},{"offset":0.7698,"color":"#111"},{"offset":0.7716,"color":"#fff"},
          {"offset":0.776,"color":"#fff"},{"offset":0.7778,"color":"#111"},{"offset":0.7796,"color":"#fff"},
          {"offset":0.784,"color":"#fff"},{"offset":0.7858,"color":"#111"},{"offset":0.7876,"color":"#fff"},
          {"offset":0.792,"color":"#fff"},{"offset":0.7938,"color":"#111"},{"offset":0.7956,"color":"#fff"},
          {"offset":0.8,"color":"#fff"},{"offset":0.8018,"color":"#111"},{"offset":0.8036,"color":"#fff"},
          {"offset":0.808,"color":"#fff"},{"offset":0.8098,"color":"#111"},{"offset":0.8116,"color":"#fff"},
          {"offset":0.816,"color":"#fff"},{"offset":0.8178,"color":"#111"},{"offset":0.8196,"color":"#fff"},
          {"offset":0.824,"color":"#fff"},{"offset":0.8258,"color":"#111"},{"offset":0.8276,"color":"#fff"},
          {"offset":0.832,"color":"#fff"},{"offset":0.8338,"color":"#111"},{"offset":0.8356,"color":"#fff"},
          {"offset":0.84,"color":"#fff"},{"offset":0.8418,"color":"#111"},{"offset":0.8436,"color":"#fff"},
          {"offset":0.848,"color":"#fff"},{"offset":0.8498,"color":"#111"},{"offset":0.8516,"color":"#fff"},
          {"offset":0.856,"color":"#fff"},{"offset":0.8578,"color":"#111"},{"offset":0.8596,"color":"#fff"},
          {"offset":0.864,"color":"#fff"},{"offset":0.8658,"color":"#111"},{"offset":0.8676,"color":"#fff"},
          {"offset":0.872,"color":"#fff"},{"offset":0.8738,"color":"#111"},{"offset":0.8756,"color":"#fff"},
          {"offset":0.88,"color":"#fff"},{"offset":0.8818,"color":"#111"},{"offset":0.8836,"color":"#fff"},
          {"offset":0.888,"color":"#fff"},{"offset":0.8898,"color":"#111"},{"offset":0.8916,"color":"#fff"},
          {"offset":0.896,"color":"#fff"},{"offset":0.8978,"color":"#111"},{"offset":0.8996,"color":"#fff"},
          {"offset":0.904,"color":"#fff"},{"offset":0.9058,"color":"#111"},{"offset":0.9076,"color":"#fff"},
          {"offset":0.912,"color":"#fff"},{"offset":0.9138,"color":"#111"},{"offset":0.9156,"color":"#fff"},
          {"offset":0.92,"color":"#fff"},{"offset":0.9218,"color":"#111"},{"offset":0.9236,"color":"#fff"},
          {"offset":0.928,"color":"#fff"},{"offset":0.9298,"color":"#111"},{"offset":0.9316,"color":"#fff"},
          {"offset":0.936,"color":"#fff"},{"offset":0.9378,"color":"#111"},{"offset":0.9396,"color":"#fff"},
          {"offset":0.944,"color":"#fff"},{"offset":0.9458,"color":"#111"},{"offset":0.9476,"color":"#fff"},
          {"offset":0.952,"color":"#fff"},{"offset":0.9538,"color":"#111"},{"offset":0.9556,"color":"#fff"},
          {"offset":0.96,"color":"#fff"},{"offset":0.9618,"color":"#111"},{"offset":0.9636,"color":"#fff"},
          {"offset":0.968,"color":"#fff"},{"offset":0.9698,"color":"#111"},{"offset":0.9716,"color":"#fff"},
          {"offset":0.976,"color":"#fff"},{"offset":0.9778,"color":"#111"},{"offset":0.9796,"color":"#fff"},
          {"offset":0.984,"color":"#fff"},{"offset":0.9858,"color":"#111"},{"offset":0.9876,"color":"#fff"},
          {"offset":0.992,"color":"#fff"},{"offset":0.9938,"color":"#111"},{"offset":0.9956,"color":"#fff"},
          {"offset":1,"color":"#fff"}
        ]
      }
    }
  }
}
